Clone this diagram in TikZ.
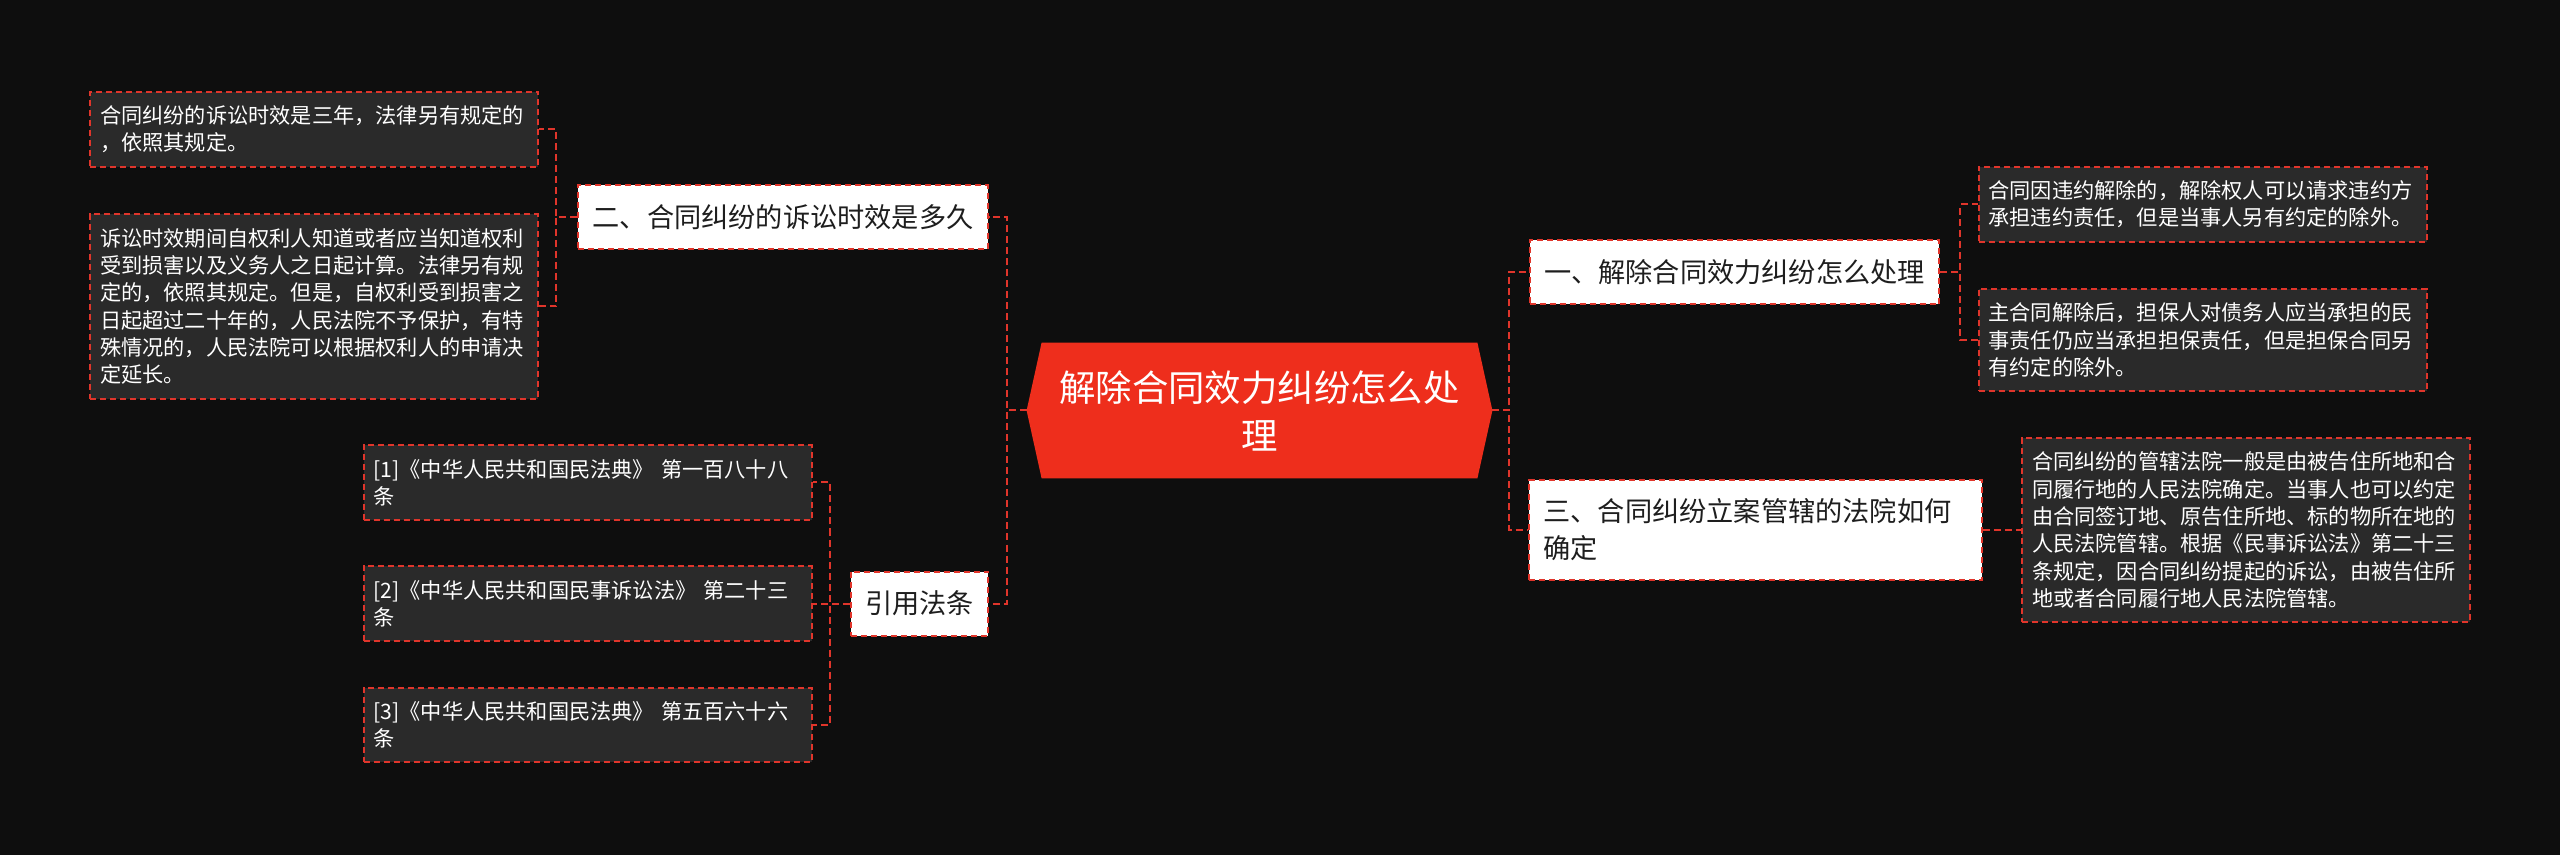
\documentclass[tikz,border=0pt]{standalone}
\usepackage{fontspec}
\setmainfont{Noto Sans CJK SC}
\usepackage{xcolor}
\usepackage{tikz}
\usetikzlibrary{positioning, calc, backgrounds}

\definecolor{canvas}{HTML}{0E0E0E}
\definecolor{leafgray}{HTML}{2A2A2A}
\definecolor{hubred}{HTML}{EE2E1C}
\definecolor{linkred}{HTML}{E0352B}
\definecolor{topicink}{HTML}{1E1E1E}

\begin{document}
\begin{tikzpicture}[
    x=0.5pt, y=-0.5pt,
    % Define styles for the nodes
    base_node/.style={rectangle, draw=linkred, line width=1pt, dash pattern=on 3pt off 2pt, inner sep=0pt},
    topic_node/.style={base_node, fill=white, text=topicink, font=\fontsize{13.6}{18.5}\selectfont, inner xsep=7.2pt, minimum height=32pt},
    leaf_node/.style={base_node, fill=leafgray, text=white, font=\fontsize{10.6}{13.65}\selectfont, text width=214pt, align=left, inner xsep=5pt, inner ysep=7pt},
    hub_node/.style={rectangle, text=white, font=\fontsize{18.2}{24}\selectfont, text width=212pt, align=center, minimum width=217.5pt, minimum height=67.5pt, inner sep=0pt},
    % Styles for connectors
    link/.style={draw=linkred, line width=1pt, dash pattern=on 3.5pt off 2pt}
]
    \useasboundingbox (0,0) rectangle (2560,855);
    \begin{scope}[on background layer]
        \fill[canvas] (0,0) rectangle (2560,855);
    \end{scope}

    % =========================================================================
    % HUB
    % =========================================================================
    \node (hub) [hub_node] at (1259.5,410.5) {解除合同效力纠纷怎么处\\理};
    \coordinate (hub_w) at ($(hub.west)+(-15,0)$);
    \coordinate (hub_e) at ($(hub.east)+(15,0)$);
    \begin{scope}[on background layer]
        \fill[hubred] (hub.north west) -- (hub.north east) -- (hub_e) -- (hub.south east) -- (hub.south west) -- (hub_w) -- cycle;
    \end{scope}

    % =========================================================================
    % LEFT BRANCHES
    % =========================================================================
    \node (limit_topic) [topic_node] at (783,217) {二、合同纠纷的诉讼时效是多久};
    \draw [link] (hub_w) -- ++(-20,0) |- (limit_topic.east);

    \node (limit_a) [leaf_node] at (314,129.5) {合同纠纷的诉讼时效是三年，法律另有规定的\\，依照其规定。};
    \node (limit_b) [leaf_node] at (314,306.5) {诉讼时效期间自权利人知道或者应当知道权利\\受到损害以及义务人之日起计算。法律另有规\\定的，依照其规定。但是，自权利受到损害之\\日起超过二十年的，人民法院不予保护，有特\\殊情况的，人民法院可以根据权利人的申请决\\定延长。};
    \draw [link] (limit_topic.west) -- ++(-21,0) |- (limit_a.east);
    \draw [link] (limit_topic.west) -- ++(-21,0) |- (limit_b.east);

    \node (law_topic) [topic_node] at (919.5,603.5) {引用法条};
    \draw [link] (hub_w) -- ++(-20,0) |- (law_topic.east);

    \node (law_1) [leaf_node] at (587.5,482.5) {[1]《中华人民共和国民法典》 第一百八十八\\条};
    \node (law_2) [leaf_node] at (587.5,603.5) {[2]《中华人民共和国民事诉讼法》 第二十三\\条};
    \node (law_3) [leaf_node] at (587.5,725) {[3]《中华人民共和国民法典》 第五百六十六\\条};
    \foreach \k in {1,2,3}
        \draw [link] (law_topic.west) -- ++(-20,0) |- (law_\k.east);

    % =========================================================================
    % RIGHT BRANCHES
    % =========================================================================
    \node (undo_topic) [topic_node] at (1734.5,272) {一、解除合同效力纠纷怎么处理};
    \draw [link] (hub_e) -- ++(17,0) |- (undo_topic.west);

    \node (undo_a) [leaf_node] at (2202.5,204.5) {合同因违约解除的，解除权人可以请求违约方\\承担违约责任，但是当事人另有约定的除外。};
    \node (undo_b) [leaf_node] at (2202.5,340) {主合同解除后，担保人对债务人应当承担的民\\事责任仍应当承担担保责任，但是担保合同另\\有约定的除外。};
    \draw [link] (undo_topic.east) -- ++(20,0) |- (undo_a.west);
    \draw [link] (undo_topic.east) -- ++(20,0) |- (undo_b.west);

    \node (court_topic) [topic_node, text width=212pt, align=left, minimum height=50pt] at (1755.5,530) {三、合同纠纷立案管辖的法院如何\\确定};
    \draw [link] (hub_e) -- ++(17,0) |- (court_topic.west);

    \node (court_a) [leaf_node] at (2246,530) {合同纠纷的管辖法院一般是由被告住所地和合\\同履行地的人民法院确定。当事人也可以约定\\由合同签订地、原告住所地、标的物所在地的\\人民法院管辖。根据《民事诉讼法》第二十三\\条规定，因合同纠纷提起的诉讼，由被告住所\\地或者合同履行地人民法院管辖。};
    \draw [link] (court_topic.east) -- (court_a.west);

\end{tikzpicture}
\end{document}
